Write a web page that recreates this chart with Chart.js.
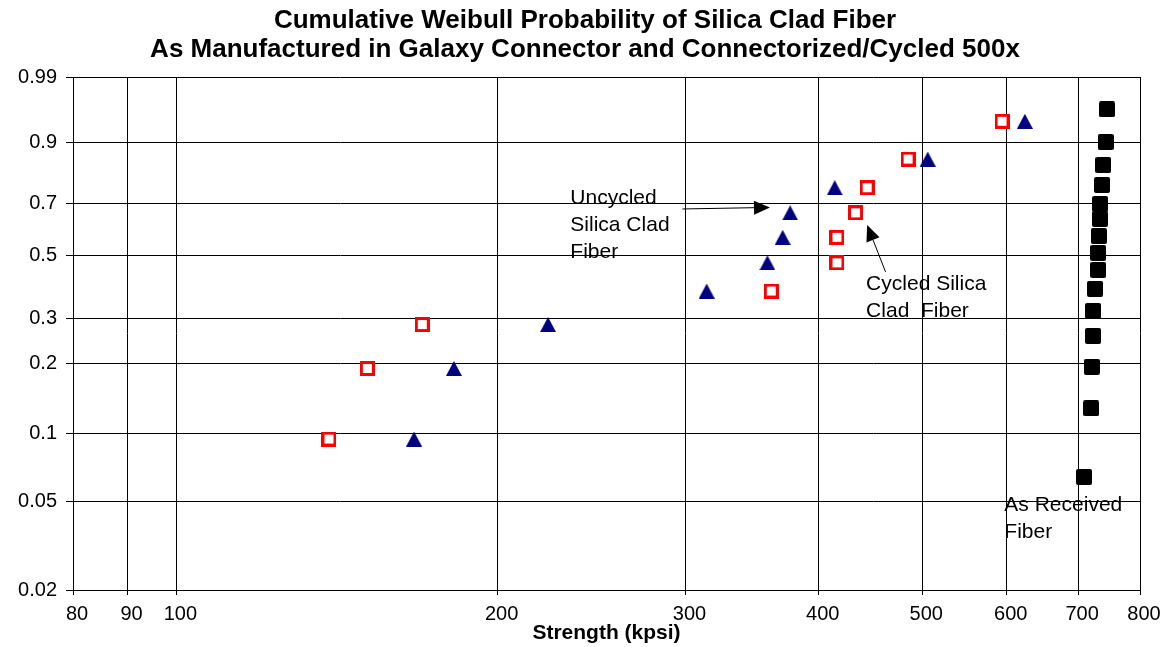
<!DOCTYPE html>
<html>
<head>
<meta charset="utf-8">
<title>Cumulative Weibull Probability of Silica Clad Fiber</title>
<script src="https://cdn.jsdelivr.net/npm/chart.js@4.4.1/dist/chart.umd.min.js"></script>
<style>
  html, body { margin: 0; padding: 0; background: #fff; }
  canvas { display: block; }
</style>
</head>
<body>
<canvas id="canvas" width="1165" height="647"></canvas>
<script>
/*
  Weibull plot: strength (kpsi, log axis) against cumulative failure probability.
*/

var titleLines = [
  'Cumulative Weibull Probability of Silica Clad Fiber',
  'As Manufactured in Galaxy Connector and Connectorized/Cycled 500x'
];

// as received fiber (black squares)
var asReceivedStrength = [709, 720, 721, 723, 723, 726, 731, 731, 732, 734, 734, 737, 739, 743, 745];
var asReceivedProb = [0.0646, 0.129, 0.193, 0.257, 0.321, 0.387, 0.450, 0.511, 0.575, 0.641, 0.699, 0.770, 0.837, 0.901, 0.962];

// uncycled silica clad fiber (blue triangles)
var uncycledStrength = [167, 182, 223, 314, 358, 370, 376, 414, 506, 624];
var uncycledProb = [0.095, 0.19, 0.285, 0.38, 0.475, 0.57, 0.665, 0.76, 0.855, 0.944];

// cycled silica clad fiber (red open squares)
var cycledStrength = [139, 151, 170, 361, 416, 416, 433, 444, 485, 594];
var cycledProb = [0.095, 0.19, 0.285, 0.38, 0.475, 0.57, 0.665, 0.76, 0.855, 0.944];

var xTicks = [80, 90, 100, 200, 300, 400, 500, 600, 700, 800];
var probTicks = [0.02, 0.05, 0.1, 0.2, 0.3, 0.5, 0.7, 0.9, 0.99];

// text notes, placed in data units (kpsi, probability)
var notes = [
  { lines: ['Uncycled', 'Silica Clad', 'Fiber'], x: 234, p: 0.70, arrow: [298, 0.68, 360, 0.686] },
  { lines: ['Cycled Silica', 'Clad  Fiber'], x: 443, p: 0.383, arrow: [462, 0.443, 444, 0.618] },
  { lines: ['As Received', 'Fiber'], x: 597, p: 0.0455 }
];

var FONT = '"Liberation Sans", Arial, sans-serif';
Chart.defaults.font.family = FONT;
Chart.defaults.color = '#000';

function weibull(p){
  return Math.log(-Math.log(1 - p));
}

// probability axis spaced by ln(-ln(1-F))
class WeibullScale extends Chart.Scale {
  determineDataLimits(){
    this.min = this.options.min;
    this.max = this.options.max;
  }
  buildTicks(){
    return probTicks.map(function(v){ return { value: v }; });
  }
  configure(){
    super.configure();
    this._wStart = weibull(this.min);
    this._wRange = weibull(this.max) - this._wStart;
  }
  getPixelForValue(value){
    return this.getPixelForDecimal((weibull(value) - this._wStart) / this._wRange);
  }
  getValueForPixel(pixel){
    var w = this._wStart + this.getDecimalForPixel(pixel) * this._wRange;
    return 1 - Math.exp(-Math.exp(w));
  }
}
WeibullScale.id = 'weibull';
WeibullScale.defaults = {};
Chart.register(WeibullScale);

function toPoints(xs, ps){
  var pts = [];
  for( var i = 0; i < xs.length; i++ ){
    pts.push({ x: xs[i], y: ps[i] });
  }
  return pts;
}

function makeMarker(w, h, paint){
  var c = document.createElement('canvas');
  c.width = w;
  c.height = h;
  paint(c.getContext('2d'));
  return c;
}

var blackSquare = makeMarker(16, 16, function(g){
  g.fillStyle = '#000';
  g.beginPath();
  g.roundRect(0, 0, 16, 16, 2);
  g.fill();
});

var redSquare = makeMarker(15, 15, function(g){
  g.fillStyle = '#fff';
  g.fillRect(0, 0, 15, 15);
  g.strokeStyle = '#ff0000';
  g.lineWidth = 3;
  g.strokeRect(1.5, 1.5, 12, 12);
});

var navyTriangle = makeMarker(16, 15, function(g){
  g.fillStyle = '#000080';
  g.beginPath();
  g.moveTo(8, 0);
  g.lineTo(16, 15);
  g.lineTo(0, 15);
  g.closePath();
  g.fill();
});

function drawArrow(ctx, x1, y1, x2, y2){
  var ang = Math.atan2(y2 - y1, x2 - x1);
  var len = 16, half = 7;
  var bx = x2 - Math.cos(ang) * len, by = y2 - Math.sin(ang) * len;
  ctx.strokeStyle = '#000';
  ctx.lineWidth = 1;
  ctx.beginPath();
  ctx.moveTo(x1, y1);
  ctx.lineTo(bx, by);
  ctx.stroke();
  ctx.fillStyle = '#000';
  ctx.beginPath();
  ctx.moveTo(x2, y2);
  ctx.lineTo(bx + Math.sin(ang) * half, by - Math.cos(ang) * half);
  ctx.lineTo(bx - Math.sin(ang) * half, by + Math.cos(ang) * half);
  ctx.closePath();
  ctx.fill();
}

var drawExtras = {
  id: 'drawExtras',
  afterDraw: function(chart){
    var ctx = chart.ctx;
    var xs = chart.scales.x, ys = chart.scales.y;
    ctx.save();
    ctx.fillStyle = '#000';
    ctx.textBaseline = 'alphabetic';
    ctx.textAlign = 'center';
    ctx.font = 'bold 26px ' + FONT;
    ctx.fillText(titleLines[0], 585, 28);
    ctx.fillText(titleLines[1], 585, 57);

    ctx.textAlign = 'left';
    ctx.font = '21px ' + FONT;
    notes.forEach(function(n){
      var px = xs.getPixelForValue(n.x), py = ys.getPixelForValue(n.p);
      ctx.fillStyle = '#000';
      n.lines.forEach(function(line, i){
        ctx.fillText(line, px, py + i * 27);
      });
      if( n.arrow ){
        drawArrow(ctx,
          xs.getPixelForValue(n.arrow[0]), ys.getPixelForValue(n.arrow[1]),
          xs.getPixelForValue(n.arrow[2]), ys.getPixelForValue(n.arrow[3]));
      }
    });
    ctx.restore();
  }
};

var ctx = document.getElementById('canvas').getContext('2d');
var chart = new Chart(ctx, {
  type: 'scatter',
  data: {
    datasets: [{
      label: 'As Received Fiber',
      data: toPoints(asReceivedStrength, asReceivedProb),
      pointStyle: blackSquare,
      pointRadius: 8
    }, {
      label: 'Uncycled Silica Clad Fiber',
      data: toPoints(uncycledStrength, uncycledProb),
      pointStyle: navyTriangle,
      pointRadius: 8
    }, {
      label: 'Cycled Silica Clad Fiber',
      data: toPoints(cycledStrength, cycledProb),
      pointStyle: redSquare,
      pointRadius: 8
    }]
  },
  options: {
    responsive: false,
    animation: false,
    events: [],
    layout: { padding: { top: 77, right: 25, bottom: 0, left: 0 } },
    plugins: {
      legend: { display: false },
      title: { display: false },
      tooltip: { enabled: false }
    },
    scales: {
      x: {
        type: 'logarithmic',
        min: 80,
        max: 800,
        bounds: 'data',
        afterBuildTicks: function(s){
          s.ticks = xTicks.map(function(v){ return { value: v }; });
        },
        afterFit: function(s){ s.height = 57; },
        grid: { color: '#000', lineWidth: 1, tickLength: 5, tickColor: '#000' },
        border: { color: '#000', width: 1 },
        ticks: {
          autoSkip: false, maxRotation: 0, padding: 7, labelOffset: 4,
          color: '#000', font: { size: 20 },
          callback: function(v){ return String(v); }
        },
        title: {
          display: true, text: 'Strength (kpsi)', color: '#000',
          font: { size: 21, weight: 'bold' }, padding: { top: 0, bottom: 1 }
        }
      },
      y: {
        type: 'weibull',
        min: 0.02,
        max: 0.99,
        afterFit: function(s){ s.width = 73; },
        grid: { color: '#000', lineWidth: 1, tickLength: 7, tickColor: '#000' },
        border: { color: '#000', width: 1 },
        ticks: { padding: 9, color: '#000', font: { size: 20 } }
      }
    }
  },
  plugins: [drawExtras]
});
</script>
</body>
</html>
